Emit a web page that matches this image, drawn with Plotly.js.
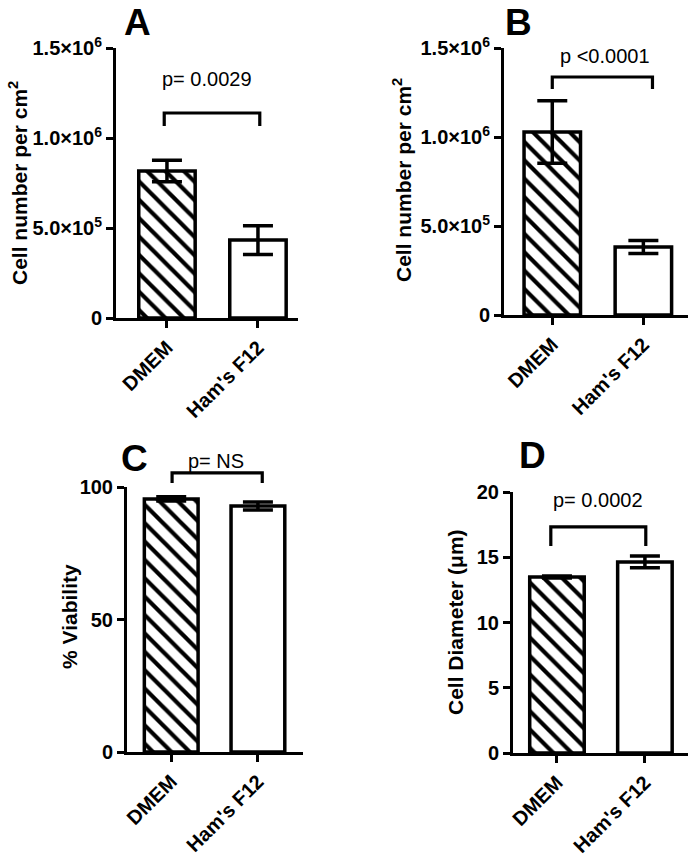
<!DOCTYPE html>
<html>
<head>
<meta charset="utf-8">
<script src="https://cdn.plot.ly/plotly-3.0.1.min.js"></script>
<style>html,body{margin:0;padding:0;background:#fff;}#chart{width:694px;height:858px;}</style>
</head>
<body>
<div id="chart"></div>
<script>
// ---- data ----
const categories = ["DMEM", "Ham's F12"];
const cellNumberA = [0.817e6, 0.433e6];
const cellNumberAErr = [0.06e6, 0.08e6];
const cellNumberB = [1.028e6, 0.382e6];
const cellNumberBErr = [0.175e6, 0.037e6];
const viability = [95.5, 92.8];
const viabilityErr = [0.8, 1.5];
const diameter = [13.49, 14.64];
const diameterErr = [0.08, 0.45];

const pLabels = ["p= 0.0029", "p <0.0001", "p= NS", "p= 0.0002"];
const pLabelY = [1.328e6, 1.455e6, 109.8, 19.39];
const pLabelX = [0.44, 0.58, 0.52, 0.47];
const bracketTop = [1.139e6, 1.337e6, 105.3, 17.32];
const bracketLeg = [1.067e6, 1.270e6, 101.5, 15.86];
const bracketX0 = [-0.03, 0.0, 0.01, -0.07];
const bracketX1 = [1.02, 1.1, 1.05, 1.01];

const cellTickVals = [0, 5e5, 1e6, 1.5e6];
const cellTickText = ["0", "5.0×10<sup>5</sup>", "1.0×10<sup>6</sup>", "1.5×10<sup>6</sup>"];
const viabTickVals = [0, 50, 100];
const diamTickVals = [0, 5, 10, 15, 20];

const panelLetters = ["A", "B", "C", "D"];
const yTitles = ["Cell number per cm<sup>2</sup>", "Cell number per cm<sup>2</sup>", "% Viability", "Cell Diameter (μm)"];

// ---- styling ----
const FONT = "Liberation Sans, Arial, Helvetica, sans-serif";
const W = 694, H = 858;
const px = v => v / W, py = v => 1 - v / H;

const values = [cellNumberA, cellNumberB, viability, diameter];
const errs = [cellNumberAErr, cellNumberBErr, viabilityErr, diameterErr];
const axisIds = ["", "2", "3", "4"];

const traces = values.map((v, i) => ({
  type: "bar",
  x: categories,
  y: v,
  xaxis: "x" + axisIds[i],
  yaxis: "y" + axisIds[i],
  width: 0.62,
  showlegend: false,
  marker: {
    color: "white",
    line: {color: "black", width: 3.5},
    pattern: {shape: ["\\", ""], size: 13, solidity: 0.32, fgcolor: "black", bgcolor: "white", fillmode: "replace"}
  },
  error_y: {type: "data", array: errs[i], visible: true, color: "black", thickness: 3.5, width: 15}
}));

const xDomains = [[px(116), px(298)], [px(504), px(688)], [px(127), px(303)], [px(513), px(688)]];
const yDomains = [[py(318), py(48)], [py(315), py(48)], [py(752), py(487)], [py(753), py(492)]];
const xRanges = [[-0.56, 1.44], [-0.53, 1.49], [-0.51, 1.52], [-0.5, 1.49]];
const yRanges = [[0, 1.5e6], [0, 1.5e6], [0, 100], [0, 20]];
const yTicks = [
  {tickvals: cellTickVals, ticktext: cellTickText},
  {tickvals: cellTickVals, ticktext: cellTickText},
  {tickvals: viabTickVals, ticktext: viabTickVals.map(String)},
  {tickvals: diamTickVals, ticktext: diamTickVals.map(String)}
];

const layout = {
  width: W, height: H,
  margin: {l: 0, r: 0, t: 0, b: 0},
  paper_bgcolor: "white", plot_bgcolor: "rgba(0,0,0,0)",
  font: {family: FONT, color: "black", size: 20, weight: "bold"},
  showlegend: false,
  shapes: [],
  annotations: []
};

function axBase(sz) {
  return {
    showline: true, linecolor: "black", linewidth: 3,
    ticks: "outside", ticklen: 7, tickwidth: 3, tickcolor: "black",
    showgrid: false, zeroline: false, fixedrange: true,
    tickfont: {family: FONT, size: sz, color: "black", weight: "bold"}
  };
}

// data value -> fraction of the subplot domain
const fx = (i, v) => (v - xRanges[i][0]) / (xRanges[i][1] - xRanges[i][0]);
const fy = (i, v) => (v - yRanges[i][0]) / (yRanges[i][1] - yRanges[i][0]);

for (let i = 0; i < 4; i++) {
  const id = axisIds[i];
  layout["xaxis" + id] = Object.assign(axBase(20), {
    type: "category", domain: xDomains[i], range: xRanges[i],
    anchor: "y" + id, tickangle: -45
  });
  layout["yaxis" + id] = Object.assign(axBase(20), {
    domain: yDomains[i], range: yRanges[i], anchor: "x" + id,
    tickmode: "array", tickvals: yTicks[i].tickvals, ticktext: yTicks[i].ticktext
  });
  const xr = "x" + id + " domain", yr = "y" + id + " domain";
  const x0 = fx(i, bracketX0[i]), x1 = fx(i, bracketX1[i]);
  const yt = fy(i, bracketTop[i]), yl = fy(i, bracketLeg[i]);
  layout.shapes.push({
    type: "path", xref: xr, yref: yr,
    path: `M${x0},${yl} L${x0},${yt} L${x1},${yt} L${x1},${yl}`,
    line: {color: "black", width: 3.2}
  });
  layout.annotations.push({
    xref: xr, yref: yr, x: fx(i, pLabelX[i]), y: fy(i, pLabelY[i]),
    text: pLabels[i], showarrow: false, xanchor: "center", yanchor: "middle",
    font: {family: FONT, size: 20, color: "black", weight: "normal"}
  });
}

const letterPos = [[137, 22], [518, 22], [134, 458], [532, 455]];
const titlePos = [[18, 183], [402, 180], [69, 617], [455, 622]];
for (let i = 0; i < 4; i++) {
  layout.annotations.push({
    xref: "paper", yref: "paper", x: px(letterPos[i][0]), y: py(letterPos[i][1]),
    text: panelLetters[i], showarrow: false, xanchor: "center", yanchor: "middle",
    font: {family: FONT, size: 37, color: "black", weight: "bold"}
  });
  layout.annotations.push({
    xref: "paper", yref: "paper", x: px(titlePos[i][0]), y: py(titlePos[i][1]),
    text: yTitles[i], showarrow: false, textangle: -90, xanchor: "center", yanchor: "middle",
    font: {family: FONT, size: 21, color: "black", weight: "bold"}
  });
}

Plotly.newPlot("chart", traces, layout, {staticPlot: true, displayModeBar: false});
</script>
</body>
</html>
